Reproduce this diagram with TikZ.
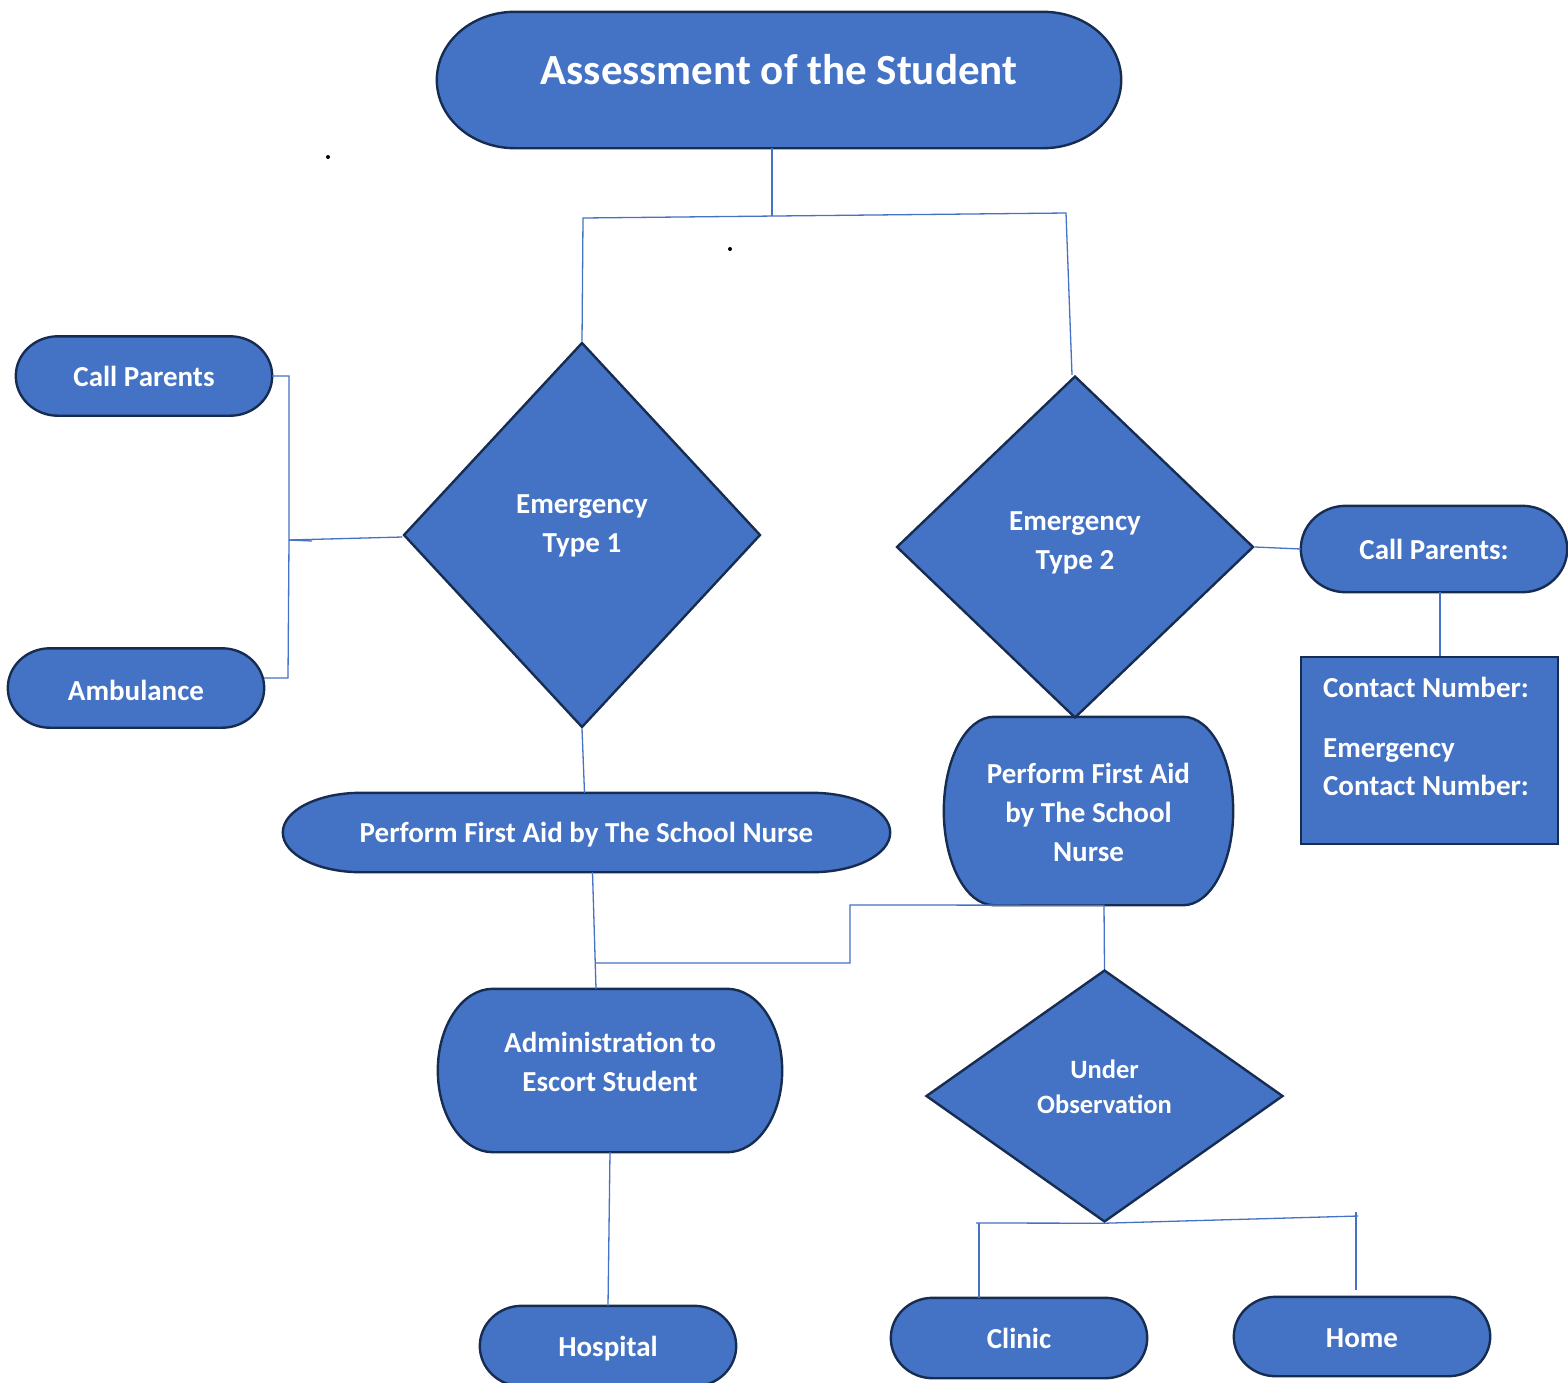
\documentclass[tikz,border=0pt]{standalone}
\usepackage{fontspec}
\setmainfont{Carlito}
\usetikzlibrary{shapes.geometric,calc,backgrounds}
\definecolor{fillblue}{HTML}{4472C4}
\definecolor{navy}{HTML}{172C51}
\definecolor{linkblue}{HTML}{4472C4}
\pgfdeclarelayer{bg}
\pgfsetlayers{bg,main}
\tikzset{
  shp/.style={fill=fillblue, draw=navy, line width=2.4pt},
  lbl/.style={text=white, font=\bfseries\fontsize{29}{39}\selectfont, align=center, inner sep=0pt},
  frame/.style 2 args={shape=rectangle, inner sep=0pt, minimum width=#1, minimum height=#2},
  dia/.style 2 args={shp, shape=diamond, inner sep=0pt, minimum width=#1, minimum height=#2},
  conn/.style={draw=linkblue, line width=1.3pt},
}
\newcommand\stad[2]{%
  \begin{pgfonlayer}{bg}
  \draw[shp] let \p1=(#1.north), \p2=(#1.south), \n1={(\y1-\y2)/2} in
    ([xshift=#2]#1.north west) -- ([xshift=-#2]#1.north east)
    arc[start angle=90, end angle=-90, x radius=#2, y radius=\n1]
    -- ([xshift=#2]#1.south west)
    arc[start angle=270, end angle=90, x radius=#2, y radius=\n1] -- cycle;
  \end{pgfonlayer}}
\begin{document}
\begin{tikzpicture}[x=1pt,y=-1pt]
\useasboundingbox (0,0) rectangle (1568,1382);
% nodes
\node[frame={684pt}{136pt}, label={[lbl,font=\bfseries\fontsize{43}{48}\selectfont,yshift=10pt]center:Assessment of the Student}] (title) at (779,80) {};
\stad{title}{78pt}
\node[frame={256pt}{79pt}, label={[lbl]center:Call Parents}] (cp1) at (144,376) {};
\stad{cp1}{42pt}
\node[frame={256pt}{79pt}, label={[lbl,yshift=-2pt]center:Ambulance}] (amb) at (136,688) {};
\stad{amb}{42pt}
\node[dia={357pt}{385pt}, label={[lbl,yshift=9pt]center:{Emergency\\Type 1}}] (d1) at (582,535) {};
\node[dia={357pt}{342pt}, label={[lbl,yshift=4pt]center:{Emergency\\Type 2}}] (d2) at (1075,547) {};
\node[frame={266pt}{86pt}, label={[lbl]center:Call Parents:}] (cp2) at (1434,549) {};
\stad{cp2}{45pt}
\node[shp, frame={257pt}{187pt}, label={[lbl,align=left,font=\bfseries\fontsize{29}{38}\selectfont,xshift=-3.5pt,yshift=14pt]center:{Contact Number:\\[22pt]Emergency\\Contact Number:}}] (cbox) at (1429.5,750.5) {};
\node[frame={607pt}{79pt}, label={[lbl,yshift=-2pt]center:Perform First Aid by The School Nurse}] (pfa1) at (586.5,832.5) {};
\stad{pfa1}{78pt}
\node[frame={289pt}{188pt}, label={[lbl,yshift=-1pt]center:{Perform First Aid\\by The School\\Nurse}}] (pfa2) at (1088.5,811) {};
\stad{pfa2}{50pt}
\node[frame={344pt}{163pt}, label={[lbl,yshift=9pt]center:{Administration to\\Escort Student}}] (adm) at (610,1070.5) {};
\stad{adm}{55pt}
\node[dia={357pt}{252pt}, label={[lbl,font=\bfseries\fontsize{26.5}{35}\selectfont,yshift=9.5pt]center:{Under\\Observation}}] (uo) at (1104.5,1096) {};
\node[frame={256pt}{80pt}, label={[lbl,yshift=-3pt]center:Hospital}] (hosp) at (608,1346) {};
\stad{hosp}{42pt}
\node[frame={256pt}{80pt}, label={[lbl]center:Clinic}] (clinic) at (1019,1338) {};
\stad{clinic}{42pt}
\node[frame={256pt}{79pt}, label={[lbl,yshift=-2pt]center:Home}] (home) at (1362,1336.5) {};
\stad{home}{42pt}
% coordinates
\coordinate (j1) at (772,216);
\coordinate (tl) at (583,218);
\coordinate (tr) at (1066,213);
\coordinate (l1) at (289,376);
\coordinate (l2) at (289,540);
\coordinate (l3) at (288,678);
\coordinate (m1) at (595.5,963);
\coordinate (m2) at (850,963);
\coordinate (m3) at (850,905);
\coordinate (b1) at (976,1223);
\coordinate (b2) at (979,1223);
\coordinate (b3) at (1358,1216);
\coordinate (b4) at (1356,1212);
\coordinate (b5) at (1356,1290);
% connectors
\draw[conn] ([xshift=-7pt]title.south) -- (j1);
\draw[conn] (d1.north) -- (tl) -- (tr) -- ([xshift=-3pt]d2.north);
\draw[conn] (cp1.east) -- (l1) -- (l2) -- ([yshift=-2pt]d1.west);
\draw[conn] (l2) -- (l3) -- ([yshift=10pt]amb.east);
\draw[conn] (l2) -- ++(23,1);
\draw[conn] (d1.south) -- ([xshift=-2pt]pfa1.north);
\draw[conn] ([xshift=6pt]pfa1.south) -- ([xshift=-14pt]adm.north);
\draw[conn] (m1) -- (m2) -- (m3) -- ([xshift=15.5pt]pfa2.south) -- (uo.north);
\draw[conn] (d2.east) -- (cp2.west);
\draw[conn] ([xshift=6pt]cp2.south) -- ([xshift=10.5pt]cbox.north);
\draw[conn] (adm.south) -- (hosp.north);
\draw[conn] (b1) -- (uo.south) -- (b3);
\draw[conn] (b2) -- ([xshift=-40pt]clinic.north);
\draw[conn] (b4) -- (b5);
% stray dots
\fill (328,157) circle[radius=2pt];
\fill (730,249) circle[radius=2pt];
\end{tikzpicture}
\end{document}
